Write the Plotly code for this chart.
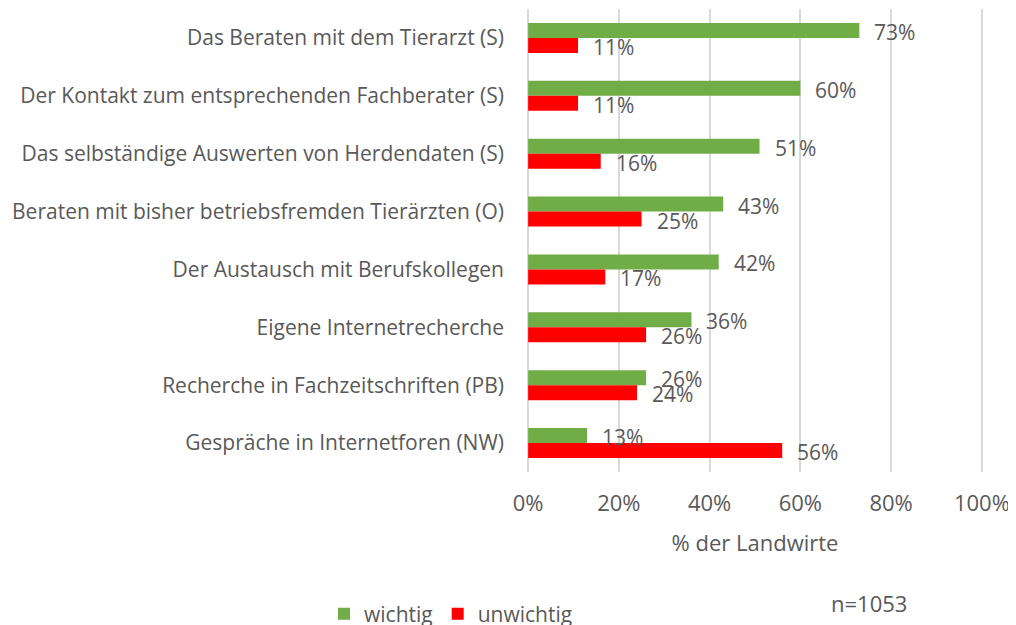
import plotly.graph_objects as go

categories = [
    "Das Beraten mit dem Tierarzt (S)",
    "Der Kontakt zum entsprechenden Fachberater (S)",
    "Das selbständige Auswerten von Herdendaten (S)",
    "Beraten mit bisher betriebsfremden Tierärzten (O)",
    "Der Austausch mit Berufskollegen",
    "Eigene Internetrecherche",
    "Recherche in Fachzeitschriften (PB)",
    "Gespräche in Internetforen (NW)",
]
wichtig = [73, 60, 51, 43, 42, 36, 26, 13]
unwichtig = [11, 11, 16, 25, 17, 26, 24, 56]
tick_vals = [0, 20, 40, 60, 80, 100]
tick_text = ["0%", "20%", "40%", "60%", "80%", "100%"]

FONT = "Open Sans"
GRAY = "#595959"
GREEN = "#70ad47"
RED = "#ff0000"

# figure is drawn inside the page's 8px body margin
W, H = 1008, 617
ML, MT, MR, MB = 519, 1, 33, 153

fig = go.Figure()
fig.add_trace(go.Bar(y=categories, x=wichtig, orientation="h", name="wichtig",
                     marker=dict(color=GREEN, line=dict(width=0))))
fig.add_trace(go.Bar(y=categories, x=unwichtig, orientation="h", name="unwichtig",
                     marker=dict(color=RED, line=dict(width=0))))

annotations = []
for c, w, u in zip(categories, wichtig, unwichtig):
    annotations.append(dict(x=w, y=c, text=f"{w}%", showarrow=False, xanchor="left",
                            xshift=13, yshift=6, font=dict(family=FONT, size=21, color=GRAY)))
    annotations.append(dict(x=u, y=c, text=f"{u}%", showarrow=False, xanchor="left",
                            xshift=13, yshift=-9, font=dict(family=FONT, size=21, color=GRAY)))

pw = W - ML - MR
ph = H - MT - MB
annotations.append(dict(x=(861 - ML) / pw, y=(H - MB - 595) / ph, xref="paper", yref="paper",
                        text="n=1053", showarrow=False, xanchor="center", yanchor="middle",
                        font=dict(family=FONT, size=22, color=GRAY)))

fig.update_layout(
    width=W, height=H,
    margin=dict(l=ML, r=MR, t=MT, b=MB, autoexpand=False),
    barmode="group", bargap=0.48, bargroupgap=0,
    plot_bgcolor="white", paper_bgcolor="white",
    font=dict(family=FONT, size=21, color=GRAY),
    showlegend=True,
    legend=dict(orientation="h", x=0.3135, y=(H - 606) / H, xanchor="left", yanchor="middle",
                xref="container", yref="container",
                font=dict(family=FONT, size=21, color=GRAY), itemwidth=30,
                traceorder="normal"),
    xaxis=dict(range=[-0.25, 100.25], tickvals=tick_vals, ticktext=tick_text, showgrid=True,
               gridcolor="#d9d9d9", gridwidth=2, zeroline=False, showline=False,
               tickfont=dict(family=FONT, size=22, color=GRAY), ticklabelstandoff=16,
               title=dict(text="% der Landwirte", font=dict(family=FONT, size=22, color=GRAY),
                          standoff=19)),
    yaxis=dict(autorange="reversed", showgrid=False, showline=False, ticks="",
               tickfont=dict(family=FONT, size=21, color=GRAY), ticklabelstandoff=22),
    annotations=annotations,
)
fig.write_html("out.html")
